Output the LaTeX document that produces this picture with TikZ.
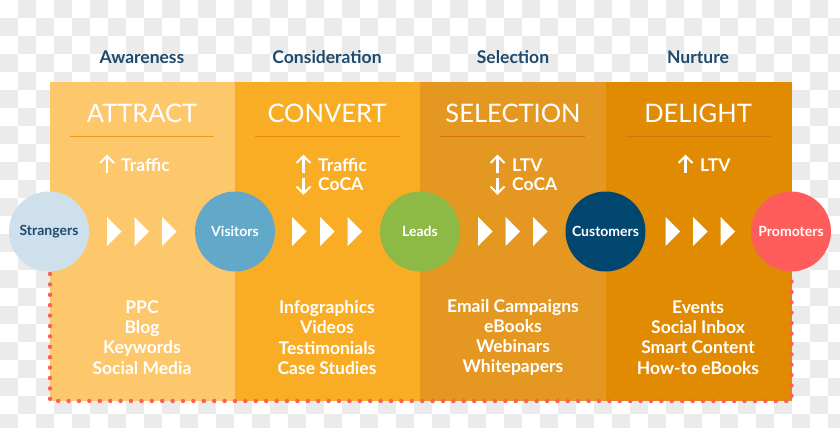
\documentclass[tikz,border=0pt]{standalone}
\usepackage{fontspec}
\setmainfont{Lato}
\definecolor{navy}{HTML}{1E4A6D}
\definecolor{pone}{HTML}{FDC76B}
\definecolor{ptwo}{HTML}{F9AD24}
\definecolor{pthree}{HTML}{E49822}
\definecolor{pfour}{HTML}{E08B02}
\definecolor{lone}{HTML}{EE9A1E}
\definecolor{ltwo}{HTML}{E58C0E}
\definecolor{lthree}{HTML}{D8720C}
\definecolor{cstr}{HTML}{CDE0EC}
\definecolor{cvis}{HTML}{62A8C9}
\definecolor{clead}{HTML}{8DBA44}
\definecolor{ccust}{HTML}{00466E}
\definecolor{cprom}{HTML}{FF5C5C}
\definecolor{checker}{HTML}{EBEBEB}
\tikzset{
  stagelabel/.style={font=\fontsize{17.5}{20}\selectfont\bfseries, text=navy},
  title/.style={font=\fontsize{25.5}{28}\selectfont, text=white},
  metric/.style={font=\fontsize{17.5}{19}\selectfont\bfseries, text=white, anchor=base west, inner sep=0pt},
  metricarrow/.style={draw=white, line width=2.1pt, line cap=butt, line join=miter},
  listtext/.style={font=\fontsize{17.5}{20.3}\selectfont\bfseries, text=white, align=center},
  stepcircle/.style={circle, minimum size=80pt, inner sep=0pt, font=\fontsize{14}{16}\selectfont\bfseries},
  chevron/.style={fill=white, draw=none},
  reddots/.style={draw=cprom, line width=4.4pt, line cap=round, dash pattern=on 0pt off 10.4pt},
}
\begin{document}
\begin{tikzpicture}[x=1pt,y=-1pt]
\useasboundingbox (0,0) rectangle (840,428);
\fill[white] (0,0) rectangle (840,428);
% checker background
\foreach \i in {0,...,46}{
  \foreach \j in {0,...,23}{
    \pgfmathtruncatemacro{\parity}{mod(\i+\j,2)}
    \ifnum\parity=1
      \fill[checker] (\i*18,\j*18) rectangle ++(18,18);
    \fi
  }
}
% panels
\fill[pone] (50,82) rectangle (235,401);
\fill[ptwo] (235,82) rectangle (420,401);
\fill[pthree] (420,82) rectangle (605.5,401);
\fill[pfour] (605.5,82) rectangle (791.5,401);
% dotted frame
\draw[reddots] (50,274) -- (50,401) -- (791.5,401) -- (791.5,274);
% stage labels
\node[stagelabel] (s1) at (142,57) {Awareness};
\node[stagelabel] (s2) at (327,57) {Consideration};
\node[stagelabel] (s3) at (513,57) {Selection};
\node[stagelabel] (s4) at (698,57) {Nurture};
% titles
\node[title] (t1) at (142,113) {ATTRACT};
\node[title] (t2) at (327,113) {CONVERT};
\node[title] (t3) at (513,113) {SELECTION};
\node[title] (t4) at (698,113) {DELIGHT};
\draw[lone, line width=1pt] (70,136.5) -- (214,136.5);
\draw[ltwo, line width=1pt] (255,136.5) -- (400,136.5);
\draw[lthree, line width=1pt] (440,136.5) -- (585,136.5);
\draw[lthree, line width=1pt] (626,136.5) -- (771,136.5);
% metrics
\node[metric] (m1) at (121,171) {Traffic};
\node[metric] (m2a) at (318,171) {Traffic};
\node[metric] (m2b) at (318,190) {CoCA};
\node[metric] (m3a) at (512,171) {LTV};
\node[metric] (m3b) at (512,190) {CoCA};
\node[metric] (m4) at (700,171) {LTV};
% up arrows
\foreach \cx in {107,303.5,497.5,685.5}{
  \draw[metricarrow] (\cx,173) -- (\cx,156.5);
  \draw[metricarrow] (\cx-7,163) -- (\cx,156) -- (\cx+7,163);
}
% down arrows
\foreach \cx in {303.5,497.5}{
  \draw[metricarrow] (\cx,177.5) -- (\cx,193);
  \draw[metricarrow] (\cx-7,186.5) -- (\cx,193.5) -- (\cx+7,186.5);
}
% chevrons
\foreach \x in {107,134.5,162, 292,320,347.5, 478,505.5,533, 665.5,693,720.5}{
  \fill[chevron] (\x,217) -- (\x+14.5,231.5) -- (\x,246) -- cycle;
}
% circles
\node[stepcircle, fill=cstr, text=navy] (c1) at (49,231.5) {Strangers};
\node[stepcircle, fill=cvis, text=white] (c2) at (235,231.5) {Visitors};
\node[stepcircle, fill=clead, text=white] (c3) at (420,231.5) {Leads};
\node[stepcircle, fill=ccust, text=white] (c4) at (605.5,231.5) {Customers};
\node[stepcircle, fill=cprom, text=white] (c5) at (791,231.5) {Promoters};
% lists
\node[listtext] (l1) at (142,337.5) {PPC\\Blog\\Keywords\\Social Media};
\node[listtext] (l2) at (327,337.5) {Infographics\\Videos\\Testimonials\\Case Studies};
\node[listtext] (l3) at (513,337.5) {Email Campaigns\\eBooks\\Webinars\\Whitepapers};
\node[listtext] (l4) at (698,337.5) {Events\\Social Inbox\\Smart Content\\How-to eBooks};
\end{tikzpicture}
\end{document}
